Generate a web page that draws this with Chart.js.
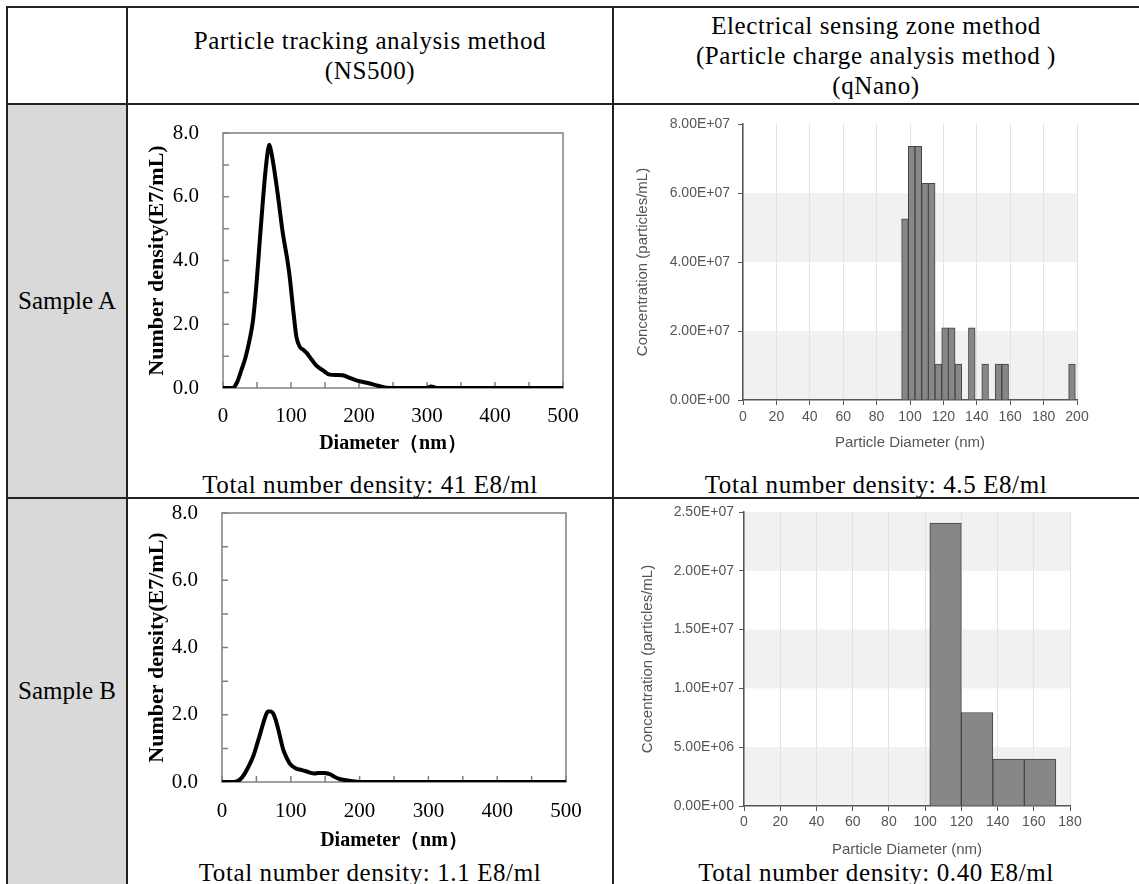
<!DOCTYPE html>
<html>
<head>
<meta charset="utf-8">
<script src="https://cdn.jsdelivr.net/npm/chart.js@4.4.0/dist/chart.umd.min.js"></script>
<style>
  body { margin: 0; background: #fff; width: 1139px; height: 884px; overflow: hidden; position: relative;
         font-family: "Liberation Serif", "Times New Roman", serif; color: #000; }
  .box { position: absolute; }
  .hl { position: absolute; height: 2px; background: #222; }
  .vl { position: absolute; width: 2px; background: #222; }
  .txt { position: absolute; text-align: center; white-space: nowrap; }
  .head { font-size: 25px; line-height: 30px; letter-spacing: 0.6px; }
  .total { font-size: 25px; line-height: 28px; letter-spacing: 0.6px; }
  .sample { font-size: 25px; line-height: 28px; }
  canvas { position: absolute; }
</style>
</head>
<body>

<!-- table cells -->
<div class="box" style="left:7px;top:104px;width:120px;height:780px;background:#d9d9d9"></div>

<div class="hl" style="left:7px;top:6px;width:1132px"></div>
<div class="hl" style="left:7px;top:103px;width:1132px"></div>
<div class="hl" style="left:7px;top:497px;width:1132px"></div>
<div class="vl" style="left:6px;top:6px;height:878px"></div>
<div class="vl" style="left:126px;top:6px;height:878px"></div>
<div class="vl" style="left:612px;top:6px;height:878px"></div>

<!-- header -->
<div class="txt head" style="left:127px;width:486px;top:26px">Particle tracking analysis method<br>(NS500)</div>
<div class="txt head" style="left:613px;width:526px;top:11px">Electrical sensing zone method<br>(Particle charge analysis method )<br>(qNano)</div>

<div class="txt sample" style="left:7px;width:120px;top:287px">Sample A</div>
<div class="txt sample" style="left:7px;width:120px;top:677px">Sample B</div>

<div class="txt total" style="left:127px;width:486px;top:471px">Total number density: 41 E8/ml</div>
<div class="txt total" style="left:613px;width:526px;top:471px">Total number density: 4.5 E8/ml</div>
<div class="txt total" style="left:127px;width:486px;top:859px">Total number density: 1.1 E8/ml</div>
<div class="txt total" style="left:613px;width:526px;top:859px">Total number density: 0.40 E8/ml</div>

<canvas id="chartA1" width="486" height="366" style="left:127px;top:104px"></canvas>
<canvas id="chartB1" width="486" height="386" style="left:127px;top:498px"></canvas>
<canvas id="chartA2" width="526" height="366" style="left:613px;top:104px"></canvas>
<canvas id="chartB2" width="526" height="386" style="left:613px;top:498px"></canvas>

<script>
// ================= DATA : NS500 (particle tracking) =================
const diamA1 = [0, 14, 20, 27, 33, 39, 44, 49, 54, 58, 62, 66, 68, 71, 75, 81, 88, 94, 98, 104, 108, 113, 118, 123, 130, 137, 147, 157, 167, 176, 186, 196, 206, 216, 228, 240, 270, 299, 306, 314, 400, 500];
const densA1 = [0, 0, 0.15, 0.56, 0.95, 1.5, 2.1, 3.2, 4.6, 5.7, 6.7, 7.45, 7.63, 7.4, 6.9, 6.0, 4.85, 4.1, 3.5, 2.3, 1.6, 1.29, 1.2, 1.1, 0.9, 0.71, 0.55, 0.42, 0.41, 0.40, 0.32, 0.24, 0.19, 0.14, 0.07, 0.01, 0, 0, 0.05, 0, 0, 0];

const diamB1 = [0, 17, 26, 33, 41, 46, 50, 55, 60, 64, 67, 71, 74, 78, 82, 86, 89, 94, 98, 103, 108, 115, 122, 128, 134, 140, 147, 152, 157, 164, 171, 178, 185, 200, 300, 400, 500];
const densB1 = [0, 0, 0.07, 0.25, 0.56, 0.8, 1.06, 1.4, 1.75, 2.0, 2.1, 2.1, 2.05, 1.85, 1.55, 1.2, 0.96, 0.72, 0.56, 0.46, 0.40, 0.36, 0.32, 0.28, 0.25, 0.27, 0.27, 0.26, 0.23, 0.15, 0.09, 0.06, 0.04, 0, 0, 0, 0];

const ptaTicksY = [0, 2, 4, 6, 8];
const ptaTicksX = [0, 100, 200, 300, 400, 500];

// ================= DATA : qNano (electrical sensing zone) =================
const binA2 = [97, 101, 105, 109, 113, 117, 121, 125, 129, 133, 137, 141, 145, 149, 153, 157, 161, 165, 169, 173, 177, 181, 185, 189, 193, 197];
const concA2 = [5.25e7, 7.35e7, 7.35e7, 6.28e7, 6.28e7, 1.04e7, 2.09e7, 2.09e7, 1.04e7, 0, 2.09e7, 0, 1.04e7, 0, 1.04e7, 1.04e7, 0, 0, 0, 0, 0, 0, 0, 0, 0, 1.04e7];

const binB2 = [111.3, 128.7, 146.1, 163.5];
const concB2 = [2.405e7, 7.95e6, 4.0e6, 4.0e6];

const esTicksYA = [0, 2e7, 4e7, 6e7, 8e7];
const esTicksYB = [0, 5e6, 1e7, 1.5e7, 2e7, 2.5e7];

// ================= HELPERS =================
function sci(v) {
  if (v === 0) return "0.00E+00";
  const e = Math.floor(Math.log10(v) + 1e-9);
  const m = v / Math.pow(10, e);
  return m.toFixed(2) + "E+" + String(e).padStart(2, "0");
}

const serif = "'Liberation Serif', 'Times New Roman', serif";
const sans = "'Liberation Sans', Arial, sans-serif";

// grey box round the plot + inward tick marks (Excel style)
const boxTicks = {
  id: "boxTicks",
  beforeDatasetsDraw(chart) {
    const { ctx, chartArea: a, scales: { x, y } } = chart;
    ctx.save();
    ctx.strokeStyle = "#808080";
    ctx.lineWidth = 1.5;
    ctx.strokeRect(a.left, a.top, a.right - a.left, a.bottom - a.top);
    ctx.beginPath();
    for (let v = y.min; v <= y.max; v += 1) {
      const py = y.getPixelForValue(v);
      ctx.moveTo(a.left, py); ctx.lineTo(a.left + 6, py);
    }
    for (let v = x.min; v <= x.max; v += 50) {
      const px = x.getPixelForValue(v);
      ctx.moveTo(px, a.bottom); ctx.lineTo(px, a.bottom - 6);
    }
    ctx.stroke();
    ctx.restore();
  }
};

// alternating grey bands behind the histogram
const bands = {
  id: "bands",
  beforeDraw(chart) {
    const { ctx, chartArea: a, scales: { y } } = chart;
    ctx.save();
    ctx.fillStyle = "#f1f1f1";
    y.ticks.forEach((t, i) => {
      if (i % 2 === 0 && i < y.ticks.length - 1) {
        const y0 = y.getPixelForValue(t.value);
        const y1 = y.getPixelForValue(y.ticks[i + 1].value);
        ctx.fillRect(a.left, y1, a.right - a.left, y0 - y1);
      }
    });
    ctx.restore();
  }
};

// ================= LINE CHART (NS500) =================
function ptaChart(id, xs, ys, lay) {
  return new Chart(document.getElementById(id), {
    type: "line",
    data: {
      datasets: [{
        data: xs.map((x, i) => ({ x: x, y: ys[i] })),
        borderColor: "#000",
        borderWidth: 4,
        pointRadius: 0,
        cubicInterpolationMode: "monotone",
        fill: false
      }]
    },
    options: {
      responsive: false,
      animation: false,
      layout: { padding: { left: 0, top: lay.top, right: lay.right, bottom: lay.bottom } },
      plugins: { legend: { display: false }, tooltip: { enabled: false } },
      scales: {
        x: {
          type: "linear", min: 0, max: 500,
          afterBuildTicks: s => { s.ticks = ptaTicksX.map(v => ({ value: v })); },
          afterFit: s => { s.height = lay.xh; },
          grid: { display: false, tickLength: 8 }, border: { display: false },
          ticks: { color: "#000", padding: lay.xpad, font: { family: serif, size: 21 } },
          title: { display: true, text: "Diameter（nm）", color: "#000", padding: { top: 0, bottom: 2 },
                   font: { family: serif, size: 20, weight: "bold" } }
        },
        y: {
          min: 0, max: 8,
          afterBuildTicks: s => { s.ticks = ptaTicksY.map(v => ({ value: v })); },
          afterFit: s => { s.width = lay.yw; },
          grid: { display: false, tickLength: lay.ytl }, border: { display: false },
          ticks: { color: "#000", padding: lay.ypad, font: { family: serif, size: 21 }, callback: v => v.toFixed(1) },
          title: { display: true, text: "Number density(E7/mL)", color: "#000", padding: { top: 17, bottom: 0 },
                   font: { family: serif, size: 22, weight: "bold" } }
        }
      }
    },
    plugins: [boxTicks]
  });
}

// ================= HISTOGRAM (qNano) =================
function esChart(id, xs, ys, xmax, yticks, lay) {
  return new Chart(document.getElementById(id), {
    type: "bar",
    data: {
      datasets: [{
        data: xs.map((x, i) => ({ x: x, y: ys[i] })),
        backgroundColor: "#878787",
        borderColor: "#444444",
        borderWidth: 1,
        barPercentage: 1,
        categoryPercentage: 1
      }]
    },
    options: {
      responsive: false,
      animation: false,
      layout: { padding: { left: 0, top: lay.top, right: lay.right, bottom: lay.bottom } },
      plugins: { legend: { display: false }, tooltip: { enabled: false } },
      scales: {
        x: {
          type: "linear", min: 0, max: xmax, offset: false,
          ticks: { stepSize: 20, color: "#555", padding: lay.xpad, font: { family: sans, size: 14 } },
          afterFit: s => { s.height = lay.xh; },
          grid: { color: "#e3e3e3", tickColor: "#555", tickLength: 5, offset: false },
          border: { color: "#555", width: 1.5 },
          title: { display: true, text: "Particle Diameter (nm)", color: "#555", padding: 0,
                   font: { family: sans, size: 15 } }
        },
        y: {
          min: 0, max: yticks[yticks.length - 1],
          afterBuildTicks: s => { s.ticks = yticks.map(v => ({ value: v })); },
          afterFit: s => { s.width = lay.yw; },
          grid: { drawOnChartArea: false, tickColor: "#555", tickLength: 5 },
          border: { color: "#555", width: 1.5 },
          ticks: { color: "#555", padding: lay.ypad, font: { family: sans, size: 14 }, callback: v => sci(v) },
          title: { display: true, text: "Concentration (particles/mL)", color: "#555", padding: { top: lay.tpad, bottom: 0 },
                   font: { family: sans, size: 15 } }
        }
      }
    },
    plugins: [bands]
  });
}

ptaChart("chartA1", diamA1, densA1, { top: 29, right: 50, bottom: 12, yw: 96, xh: 70, xpad: 8, ytl: 20, ypad: 4 });
ptaChart("chartB1", diamB1, densB1, { top: 15, right: 47, bottom: 29, yw: 95, xh: 73, xpad: 9, ytl: 22, ypad: 2 });
esChart("chartA2", binA2, concA2, 200, esTicksYA, { top: 20, right: 62, bottom: 18, yw: 130, xh: 52, xpad: 4, ypad: 8, tpad: 21 });
esChart("chartB2", binB2, concB2, 180, esTicksYB, { top: 14, right: 69, bottom: 25, yw: 131, xh: 53, xpad: 3, ypad: 5, tpad: 26 });
</script>
</body>
</html>
